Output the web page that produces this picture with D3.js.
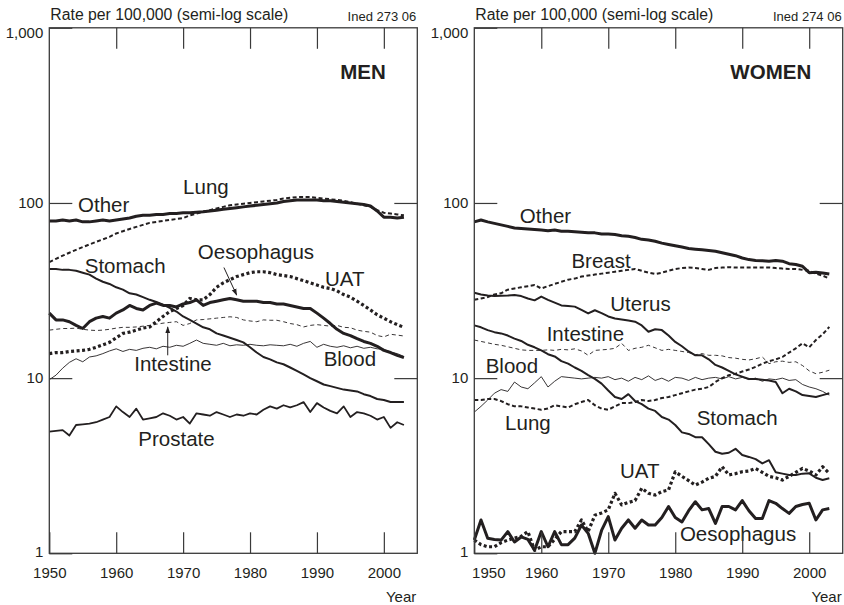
<!DOCTYPE html>
<html><head><meta charset="utf-8">
<script src="https://cdn.jsdelivr.net/npm/d3@7"></script>
<style>
body{margin:0;background:#fff;}
svg text{font-family:"Liberation Sans",Arial,Helvetica,sans-serif;fill:#231f20;}
</style></head><body>
<svg id="chart" width="844" height="605"></svg>
<script>
// ---------- DATA ----------
const years = d3.range(1950, 2004);
const xTicks = [1950, 1960, 1970, 1980, 1990, 2000];
const yTicks = [1, 10, 100, 1000];
const yTickLabels = ["1", "10", "100", "1,000"];
const panelTitles = ["MEN", "WOMEN"];
const yTitle = "Rate per 100,000 (semi-log scale)";
const sourceCodes = ["Ined 273 06", "Ined 274 06"];
const xTitle = "Year";

// Men
const menOther = [79,79,80,79,80,78,78,79,80,79,80, 81,82,84,85,85,86,86,87,87,88, 88,88.5,89,90,91,92,93,94,95,96, 97,98,99,100,102,103,104,104,104,104, 103,103,102,101,100,99,98,96,90,83, 83,82,83];
const menLung = [46,48,50,52,54,56,58,60,62,64,67, 69,71,73,75,77,78,79,80,81,82, 85,87,89,91,93,95,97,98,99,100, 101,102,103,104,106,107,108,108,108,107, 106,105,104,103,101,99,97,95,91,88, 87,86,85];
const menStomach = [42,42,41.5,41.5,41,40,39,37,35.5,34.5,33, 32,30.5,30,29,28,27.2,26.3,25.2,24,22.5, 21.5,20.5,19.5,19,18,17.5,17,16.5,16,15, 14,13.2,12.8,12.3,12,11.5,11,10.5,10,9.6, 9.2,9.0,8.8,8.6,8.5,8.4,8.1,7.9,7.6,7.5, 7.3,7.3,7.3];
const menOesophagus = [23.5,21.5,21.5,21,20,19.2,21,22,22.5,22,23.5, 24.5,26,25,24.5,26,26.8,26,26,25.5,26.5, 27,28,26,27,27.5,28,28.5,28,27.5,27.5, 27.5,27,27,26.5,26.5,26,25.5,25,25,23.5, 22,20.5,19,18,17.5,16.8,16.2,15.8,15.2,14.4, 14,13.5,13.1];
const menUAT = [13.8,14,14,14.2,14.3,14.4,14.6,15,15.5,16,17, 18,18.3,18.8,19.3,19.6,21,22.5,24,25,26, 28.5,28,28,30,33,35,36.5,38,39,40, 40.5,40.5,40,39,38.5,38,37,36,35,34, 33,32.5,31.5,30,29,27.5,26,24.5,23,22, 21,20.2,19.5];
const menIntestine = [18.8,19,19.2,19.2,19.3,19,18.8,18.7,18.8,19,19.3, 19.5,19.5,19.6,19.8,20,20.3,20.6,20.8,21,20, 20.5,21.5,21.6,21.8,22,22.2,22.4,22.2,21.5,21.2, 21,21.5,21.4,21.4,21,20.5,20.2,19.6,20,20.2, 20,19.8,20,19.5,19.4,18.8,18.5,18.3,17.5,17.2, 17.8,17.6,17.4];
const menBlood = [9.8,10.4,11.4,12.3,12.9,12.4,13.2,13.4,13.8,14.3,14.7, 14.2,14.6,14.4,14.8,15,14.7,15.2,15,15.4,15.2, 15.8,16.5,15.8,15.6,15.4,15.8,15.3,15.5,15.4,15.6, 15.4,15.3,15.5,15.4,15.3,15.6,15.2,15.8,16.2,15, 15.6,15.2,15,15.3,14.9,15.2,14.8,15,14.7,14.6, 14.1,13.8,13.3];
const menProstate = [4.95,5.0,5.05,4.7,5.4,5.45,5.5,5.6,5.8,6.0,6.9, 6.4,6.0,6.7,5.8,5.9,6.0,6.3,6.1,5.8,6.0, 5.5,6.3,6.2,6.1,6.4,6.2,6.0,6.2,6.1,6.3, 6.2,6.6,6.9,6.7,7.0,6.8,7.0,7.3,6.4,7.2, 6.8,6.5,6.3,6.9,6.0,6.4,6.3,6.1,5.8,6.0, 5.2,5.6,5.4];

// Women
const womenOther = [78,80,78,76.5,75,73.5,72,71.5,71,70.5,70, 69.5,70,69,69,68.5,68,67.5,67.5,66.5,66.5, 66,65,64.5,63.5,62,61.5,60.5,59,58,57, 56,55,54.5,54,53.5,53,52,51,50,48.5, 47.5,47,46.8,46.5,47,46.5,45,44.5,43.5,40, 40.2,39.8,39.3];
const womenBreast = [28,28.5,29,30,30.5,32,32.5,33,33.5,34,32.5, 33.5,34.5,35.5,36.5,37,38,38.5,39,39.5,40, 40.5,41,41.5,42,41,40,39.3,40,41,42, 42.5,42.8,42.5,42,41.5,42.5,42.8,43,42.8,42.8, 42.8,42.8,42.8,42.8,42.5,42.2,42,42,41.5,41, 39.5,38.5,37];
const womenUterus = [30.7,30,29.6,29.4,29.5,29.6,29.8,29.4,28.5,27.8,29.2, 28,27,26,25.8,25.6,24.5,23.4,24.4,23.5,22.5, 21.9,21.6,21.3,21,20,18.4,19,18.8,17.5,16.1, 15.2,14.2,13.5,13.5,12.8,11.9,11.5,11,10.5,10.2, 9.9,9.9,9.8,9.7,9.5,8.2,8.7,8.4,8.0,7.9, 7.8,8.0,8.2];
const womenIntestine = [16.5,16.2,15.9,15.6,15.4,15.1,14.8,14.5,14.4,14.4,14.4, 14.5,14.4,14.6,14.5,14.7,14.3,13.5,14.4,14.5,14.6, 14.8,15.8,14.4,14.8,15.0,15.4,14.9,14.4,14.6,14.4, 14.2,14.0,13.6,13.8,13.5,13.5,13.4,13.1,13.0,12.8, 12.7,12.9,13.2,12.1,12.4,12.5,12.3,12.4,11.8,11.0, 10.6,10.8,11.1];
const womenBlood = [6.4,6.9,7.5,8.2,8.6,8.4,9.5,8.9,8.7,9.4,10.2, 8.9,9.6,10.2,10.1,10.0,9.9,10.0,10.1,10.0,10.2, 9.8,10.0,9.6,10.1,9.8,10.3,9.7,10.0,9.6,10.1, 10.0,9.7,10.1,9.8,10.0,10.1,9.9,10.2,9.9,10.1, 9.8,10.0,9.6,9.9,9.8,10.0,9.7,9.8,9.2,8.9, 8.7,8.4,8.0];
const womenLung = [7.5,7.5,7.6,7.6,7.4,7.1,6.9,6.9,6.8,6.7,6.6, 6.7,7.0,6.9,6.8,7.1,7.3,7.5,7.0,6.7,6.6, 6.9,7.2,7.2,7.3,7.5,7.4,7.5,7.7,7.8,8.0, 8.2,8.4,8.6,8.7,8.9,9.5,10.0,10.4,10.6,10.9, 11.2,11.6,12.1,12.5,12.8,13.2,14.0,14.8,15.8,15.0, 16.5,17.8,19.6];
const womenStomach = [20,19.5,18.8,18.3,18,17.5,16.8,16.3,15.5,15,14.4, 13.7,13.3,12.5,12.1,11.5,11,10.4,9.9,9.3,8.5, 7.8,7.6,8.1,7.4,7.1,6.7,6.5,6.0,5.8,5.4, 4.9,4.8,4.6,4.6,4.2,3.8,3.7,3.75,3.95,3.64, 3.55,3.45,3.26,3.4,2.9,2.85,2.8,2.8,2.85,2.86, 2.7,2.62,2.68];
const womenUAT = [1.19,1.12,1.09,1.09,1.15,1.19,1.22,1.25,1.33,1.04,1.09, 1.09,1.2,1.33,1.33,1.33,1.55,1.33,1.65,1.7,1.77, 2.2,1.89,1.95,2.0,2.35,2.2,2.15,2.25,2.3,2.92, 2.75,2.6,2.45,2.55,2.68,2.75,3.12,2.8,2.85,2.92, 2.95,3.05,2.9,2.75,2.7,2.62,2.75,2.9,3.05,2.95, 2.8,3.12,2.86];
const womenOesophagus = [1.19,1.55,1.22,1.2,1.19,1.33,1.16,1.24,1.2,1.04,1.33, 1.09,1.33,1.12,1.12,1.22,1.45,1.3,1.0,1.35,1.62, 1.19,1.39,1.55,1.39,1.55,1.45,1.45,1.6,1.85,1.6, 1.51,1.75,1.97,1.77,1.8,1.48,1.85,1.85,1.77,2.0, 1.75,1.58,1.58,2.0,1.93,1.8,1.69,1.85,1.9,1.93, 1.55,1.77,1.8];

// ---------- STYLES ----------
const lineStyles = {
  thick:   {w: 3.0, dash: null},
  medium:  {w: 2.0, dash: null},
  prost:   {w: 1.8, dash: null},
  thin:    {w: 0.9, dash: null},
  dashed:  {w: 2.0, dash: "4,2.5"},
  thinDash:{w: 0.9, dash: "4,3"},
  dotted:  {w: 3.2, dash: "3,2.5"}
};

const panels = [
  {
    title: panelTitles[0], code: sourceCodes[0], x0: 49.3, x1: 417.3, firstTickShift: 0,
    series: [
      {name:"Other", values: menOther, style:"thick"},
      {name:"Lung", values: menLung, style:"dashed"},
      {name:"Stomach", values: menStomach, style:"medium"},
      {name:"Oesophagus", values: menOesophagus, style:"thick"},
      {name:"UAT", values: menUAT, style:"dotted"},
      {name:"Intestine", values: menIntestine, style:"thinDash"},
      {name:"Blood", values: menBlood, style:"thin"},
      {name:"Prostate", values: menProstate, style:"prost"}
    ],
    labels: [
      {text:"Other", yr:1954.3, v:88.5},
      {text:"Lung", yr:1970.0, v:113},
      {text:"Stomach", yr:1955.3, v:39.9},
      {text:"Oesophagus", yr:1972.2, v:47.7},
      {text:"UAT", yr:1991.2, v:33.5},
      {text:"Intestine", yr:1962.7, v:11.0},
      {text:"Blood", yr:1991.0, v:11.7},
      {text:"Prostate", yr:1963.3, v:4.09}
    ],
    arrows: [
      {yr0:1976.1, v0:42.8, yr1:1978.0, v1:29.8},
      {yr0:1967.7, v0:13.5, yr1:1967.7, v1:19.6}
    ]
  },
  {
    title: panelTitles[1], code: sourceCodes[1], x0: 474.3, x1: 842.7, firstTickShift: 14,
    series: [
      {name:"Other", values: womenOther, style:"thick"},
      {name:"Breast", values: womenBreast, style:"dashed"},
      {name:"Uterus", values: womenUterus, style:"medium"},
      {name:"Intestine", values: womenIntestine, style:"thinDash"},
      {name:"Blood", values: womenBlood, style:"thin"},
      {name:"Lung", values: womenLung, style:"dashed"},
      {name:"Stomach", values: womenStomach, style:"medium"},
      {name:"UAT", values: womenUAT, style:"dotted"},
      {name:"Oesophagus", values: womenOesophagus, style:"thick"}
    ],
    labels: [
      {text:"Other", yr:1956.8, v:76.9},
      {text:"Breast", yr:1964.5, v:42.3},
      {text:"Uterus", yr:1970.3, v:24.1},
      {text:"Intestine", yr:1960.8, v:16.3},
      {text:"Blood", yr:1951.7, v:10.64},
      {text:"Lung", yr:1954.6, v:5.05},
      {text:"Stomach", yr:1983.2, v:5.39},
      {text:"UAT", yr:1971.75, v:2.68},
      {text:"Oesophagus", yr:1980.7, v:1.168}
    ],
    arrows: []
  }
];

// ---------- DRAW ----------
const svg = d3.select("#chart");
const ink = "#231f20";
const plotTop = 27.8, plotBottom = 553.3;

svg.append("defs").append("marker")
  .attr("id","arrow").attr("viewBox","0 0 10 10").attr("refX",9).attr("refY",5)
  .attr("markerWidth",7).attr("markerHeight",7).attr("orient","auto-start-reverse")
  .append("path").attr("d","M0,1.5 L10,5 L0,8.5 Z").attr("fill",ink);

panels.forEach((p, pi) => {
  const x = d3.scaleLinear().domain([1950, 2005]).range([p.x0, p.x1]);
  const y = d3.scaleLog().domain([1, 1000]).range([plotBottom, plotTop]);
  const g = svg.append("g");

  const line = d3.line().x((d,i) => x(years[i])).y(d => y(d));
  p.series.forEach(s => {
    const st = lineStyles[s.style];
    g.append("path").datum(s.values)
      .attr("d", line).attr("fill","none").attr("stroke", ink)
      .attr("stroke-width", st.w).attr("stroke-linejoin","round")
      .attr("stroke-dasharray", st.dash);
  });

  g.selectAll("text.lbl").data(p.labels).join("text").attr("class","lbl")
    .attr("x", d => x(d.yr)).attr("y", d => y(d.v))
    .attr("font-size", 20.5).text(d => d.text);

  p.arrows.forEach(a => {
    g.append("line").attr("x1", x(a.yr0)).attr("y1", y(a.v0))
      .attr("x2", x(a.yr1)).attr("y2", y(a.v1))
      .attr("stroke", ink).attr("stroke-width", 1).attr("marker-end","url(#arrow)");
  });

  g.append("rect").attr("x", p.x0).attr("y", plotTop)
    .attr("width", p.x1 - p.x0).attr("height", plotBottom - plotTop)
    .attr("fill","none").attr("stroke", "#3a3a3a").attr("stroke-width", 1.3);

  const axB = g.append("g").attr("transform", `translate(0,${plotBottom})`)
    .call(d3.axisBottom(x).tickValues(xTicks).tickFormat(d3.format("d"))
      .tickSize(-21).tickSizeOuter(0).tickPadding(14));
  const axT = g.append("g").attr("transform", `translate(0,${plotTop})`)
    .call(d3.axisTop(x).tickValues(xTicks.slice(1)).tickFormat("")
      .tickSize(-21).tickSizeOuter(0));
  const axL = g.append("g").attr("transform", `translate(${p.x0},0)`)
    .call(d3.axisLeft(y).tickValues(yTicks).tickFormat((d,i) => yTickLabels[i])
      .tickSize(-23).tickSizeOuter(0).tickPadding(6));
  const axR = g.append("g").attr("transform", `translate(${p.x1},0)`)
    .call(d3.axisRight(y).tickValues(yTicks.slice(1,3)).tickFormat("")
      .tickSize(-23).tickSizeOuter(0));
  [axB, axT, axL, axR].forEach(a => {
    a.select(".domain").remove();
    a.selectAll("line").attr("stroke","#3a3a3a").attr("stroke-width",1.2);
    a.selectAll("text").attr("font-size", 15)
      .attr("font-family", '"Liberation Sans",Arial,sans-serif').attr("fill", ink);
  });
  axB.selectAll(".tick text").attr("dx", d => d === 1950 ? p.firstTickShift : 0);
  axL.selectAll(".tick text").attr("dy", d => d === 1000 ? "0.65em" : (d === 1 ? "0.22em" : "0.32em"));

  g.append("text").attr("x", p.x0 + 1).attr("y", 19.5).attr("font-size", 15.8).text(yTitle);
  g.append("text").attr("x", p.x1 - 1).attr("y", 20.5).attr("font-size", 13)
    .attr("text-anchor","end").text(p.code);
  g.append("text").attr("x", x(2000.3)).attr("y", y(507.7)).attr("font-size", 20.5)
    .attr("font-weight","bold").attr("text-anchor","end").text(p.title);
  g.append("text").attr("x", p.x1 - 1).attr("y", 601.5).attr("font-size", 15)
    .attr("text-anchor","end").text(xTitle);
});
</script>
</body></html>
